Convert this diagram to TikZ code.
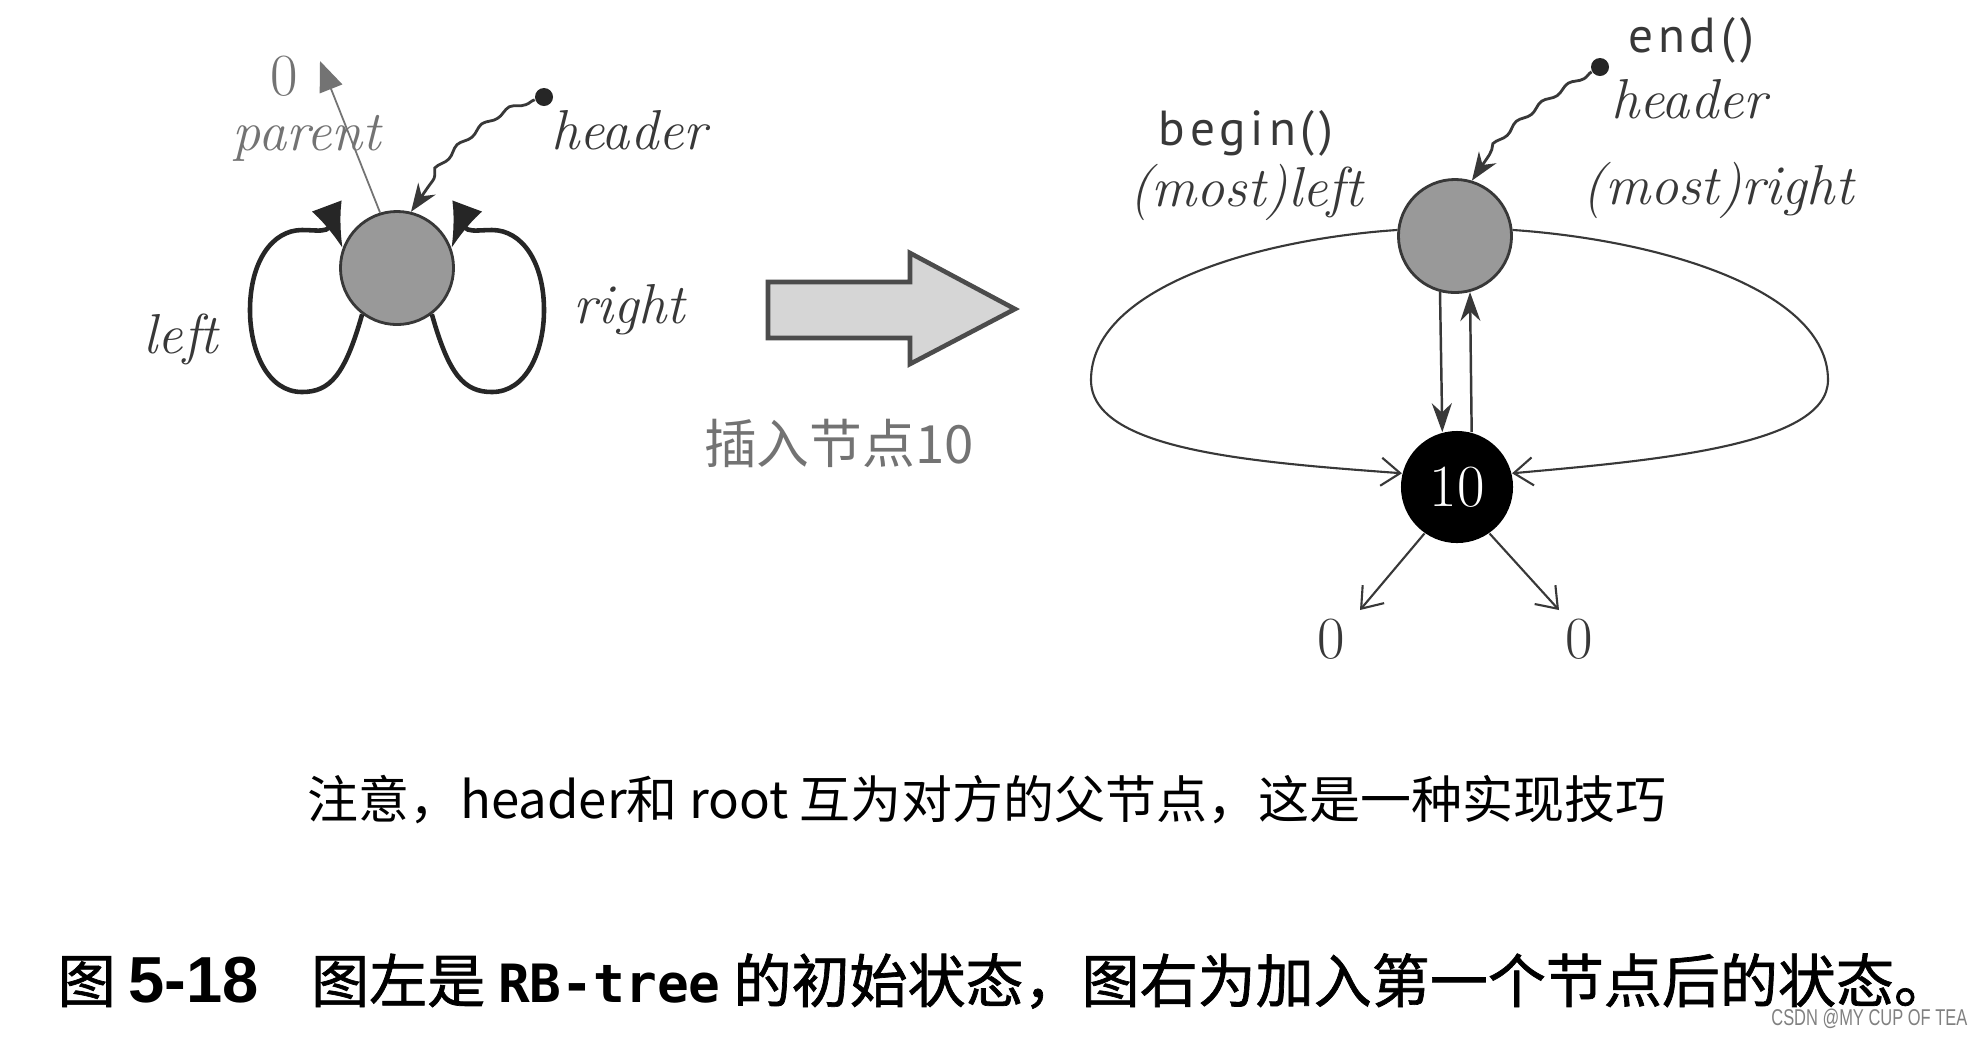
\documentclass[tikz,border=0pt]{standalone}
\usepackage{fontspec}
\newfontfamily\cjk{Noto Sans CJK SC}
\newfontfamily\cjkheavy[FakeBold=1.2]{Noto Sans CJK SC}
\newfontfamily\codefont[LetterSpace=10]{PT Sans}
\newfontfamily\boldsans{Liberation Sans}
\newfontfamily\monofont{DejaVu Sans Mono}
\usetikzlibrary{arrows.meta,decorations.pathmorphing}
\definecolor{nodegray}{gray}{0.6}
\definecolor{inkgray}{gray}{0.22}
\definecolor{lightink}{gray}{0.45}
\begin{document}
\begin{tikzpicture}[x=0.01cm,y=-0.01cm,
  hnode/.style={circle,draw=inkgray,fill=nodegray,line width=0.8pt,minimum size=1.13cm,inner sep=0pt},
  rnode/.style={circle,fill=black,minimum size=1.12cm,inner sep=0pt,text=white,font=\fontsize{17}{19}\selectfont},
  dot/.style={circle,fill=black!85,minimum size=0.18cm,inner sep=0pt},
  lab/.style={text=inkgray,font=\fontsize{16}{18}\selectfont\itshape,inner sep=1pt},
  num/.style={text=inkgray,font=\fontsize{17}{19}\selectfont,inner sep=0pt},
  code/.style={text=inkgray,font=\fontsize{14}{16}\selectfont\codefont,inner sep=1pt},
  loop/.style={line width=1.3pt,draw=black!85,-{Latex[length=4.5mm,width=3.2mm]}},
  wavy/.style={line width=0.8pt,draw=inkgray,decorate,
    decoration={snake,amplitude=0.22mm,segment length=3.2mm,post length=3mm},
    -{Stealth[length=2.8mm,width=2.1mm]}},
  link/.style={line width=0.6pt,draw=inkgray,-{Straight Barb[length=1.9mm,width=2.8mm]}},
  vlink/.style={line width=0.7pt,draw=inkgray,-{Stealth[length=2.9mm,width=2mm]}}]
  \useasboundingbox[fill=white] (0,0) rectangle (1984,1038);
  % --- left: empty tree, header only ---
  \node[hnode] (c1) at (397,268) {};
  \node[lab] (lleft) at (181,339) {left};
  \node[lab] (lright) at (629,310) {right};
  \node[lab,text=lightink] (lpar) at (307,138) {parent};
  \node[num,text=lightink] (lz) at (284,76) {0};
  \node[lab] (lhead) at (629,130) {header};
  \node[dot] (hd1) at (544,97) {};
  \coordinate (p0) at (320,61);
  \draw[loop] (c1.233) .. controls (345,375) and (330,392) .. (302,392)
    .. controls (268,392) and (250,352) .. (250,310)
    .. controls (250,262) and (272,230) .. (302,230)
    .. controls (322,230) and (338,236) .. (c1.160);
  \draw[loop] (c1.307) .. controls (449,375) and (464,392) .. (492,392)
    .. controls (526,392) and (544,352) .. (544,310)
    .. controls (544,262) and (522,230) .. (492,230)
    .. controls (472,230) and (456,236) .. (c1.20);
  \draw[line width=0.5pt,draw=lightink,-{Triangle[length=3mm,width=2.4mm]}] (c1.107) -- (p0);
  \draw[wavy] (hd1) .. controls (500,110) and (450,150) .. (c1.76);
  % --- transition arrow ---
  \draw[line width=1.3pt,draw=black!70,fill=black!16]
    (768,282) -- (910,282) -- (910,253) -- (1015,309) -- (910,364) -- (910,338) -- (768,338) -- cycle;
  \node[text=black!55,font=\fontsize{15}{17}\selectfont\cjk] (ins) at (839,443) {插入节点10};
  % --- right: after inserting 10 ---
  \node[hnode] (g) at (1455,236) {};
  \node[rnode] (b) at (1457,487) {10};
  \node[code] (lbeg) at (1246,133) {begin()};
  \node[lab] (lml) at (1246,192) {(most)left};
  \node[code] (lend) at (1691,40) {end()};
  \node[lab] (rhead) at (1689,99) {header};
  \node[dot] (hd2) at (1600,67) {};
  \node[lab] (lmr) at (1718,190) {(most)right};
  \node[num] (z1) at (1331,639) {0};
  \node[num] (z2) at (1579,639) {0};
  \coordinate (e1) at (1360,610);
  \coordinate (e2) at (1559,610);
  \draw[wavy] (hd2) .. controls (1560,90) and (1500,130) .. (g.73);
  \draw[vlink] (g.-105) -- (b.105);
  \draw[vlink] (b.75) -- (g.-75);
  \draw[link] (g.174) .. controls (1250,240) and (1091,290) .. (1091,380)
    .. controls (1091,450) and (1250,462) .. (b.166);
  \draw[link] (g.6) .. controls (1660,240) and (1828,290) .. (1828,380)
    .. controls (1828,445) and (1660,460) .. (b.14);
  \draw[link] (b.-125) -- (e1);
  \draw[link] (b.-55) -- (e2);
  % --- captions ---
  \node[font=\fontsize{14.5}{17}\selectfont\cjk] (cap1) at (987,800)
    {注意，header和 root 互为对方的父节点，这是一种实现技巧};
  \node[anchor=west,inner sep=0pt,font=\fontsize{16.5}{19}\selectfont\cjkheavy] (cap2) at (57,981)
    {图 {\boldsans\bfseries\fontsize{18.5}{20}\selectfont 5-18}\hspace{0.9em}图左是 {\monofont\bfseries\fontsize{15}{18}\selectfont RB-tree} 的初始状态，图右为加入第一个节点后的状态。};
  \node[anchor=east,inner sep=0pt,text=black!50,font=\fontsize{6.5}{8}\selectfont\boldsans] (wm) at (1968,1019)
    {\scalebox{0.72}[1]{CSDN @MY CUP OF TEA}};
\end{tikzpicture}
\end{document}
